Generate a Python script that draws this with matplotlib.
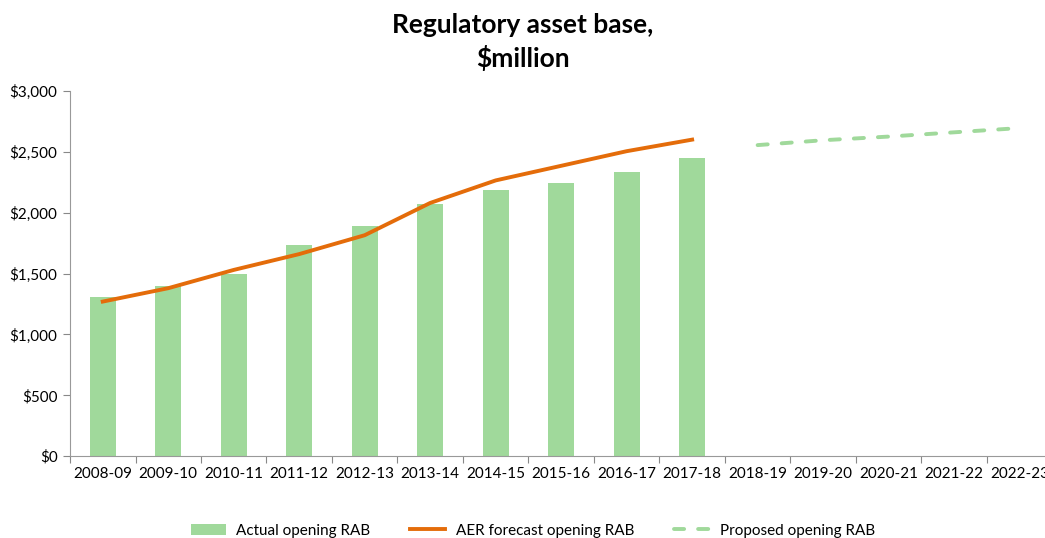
import matplotlib.pyplot as plt
import numpy as np
from matplotlib.ticker import FuncFormatter

plt.rcParams['font.family'] = ['Lato', 'DejaVu Sans']

years = ['2008-09', '2009-10', '2010-11', '2011-12', '2012-13', '2013-14', '2014-15',
         '2015-16', '2016-17', '2017-18', '2018-19', '2019-20', '2020-21', '2021-22', '2022-23']
actual_rab = [1310, 1395, 1500, 1735, 1890, 2070, 2185, 2245, 2335, 2450]
aer_forecast = [1270, 1380, 1530, 1660, 1815, 2080, 2265, 2385, 2505, 2600]
proposed = [2555, 2595, 2625, 2660, 2695]

bar_col = '#A0D99B'
line_col = '#E46C0A'

fig = plt.figure(figsize=(10.45, 5.38), dpi=100)
ax = fig.add_axes([0.067, 0.152, 0.94, 0.679])

x = np.arange(len(years))
h_bar = ax.bar(x[:len(actual_rab)], actual_rab, width=0.4, color=bar_col, label='Actual opening RAB')
h_aer, = ax.plot(x[:len(aer_forecast)], aer_forecast, color=line_col, lw=2.8,
                 label='AER forecast opening RAB')
h_prop, = ax.plot(x[len(years) - len(proposed):], proposed, color=bar_col, lw=2.8, ls=(0, (2.6, 3.6)),
                  dash_capstyle='round', label='Proposed opening RAB')

ax.set_xlim(-0.5, len(years) - 0.5)
ax.set_ylim(0, 3000)
ax.set_yticks(np.arange(0, 3001, 500))
ax.yaxis.set_major_formatter(FuncFormatter(lambda v, p: '${:,.0f}'.format(v)))

ax.set_xticks(np.arange(-0.5, len(years), 1))
ax.set_xticklabels([])
ax.set_xticks(x, minor=True)
ax.set_xticklabels(years, minor=True)
ax.tick_params(axis='x', which='minor', length=0, pad=8, labelsize=11)
ax.tick_params(axis='x', which='major', length=5, color='#888888')
ax.tick_params(axis='y', length=5, color='#888888', labelsize=11, pad=4)

for s in ['top', 'right']:
    ax.spines[s].set_visible(False)
ax.spines['left'].set_color('#999999')
ax.spines['bottom'].set_color('#999999')

fig.suptitle('Regulatory asset base,\n$million', fontsize=19, fontweight='bold', y=0.975,
             linespacing=1.35)

fig.legend(handles=[h_bar, h_aer, h_prop], loc='lower center', ncol=3, frameon=False, fontsize=11,
           bbox_to_anchor=(0.51, -0.025), handlelength=2.3, handletextpad=0.7, columnspacing=2.6)

fig.savefig('out.png', dpi=100)
